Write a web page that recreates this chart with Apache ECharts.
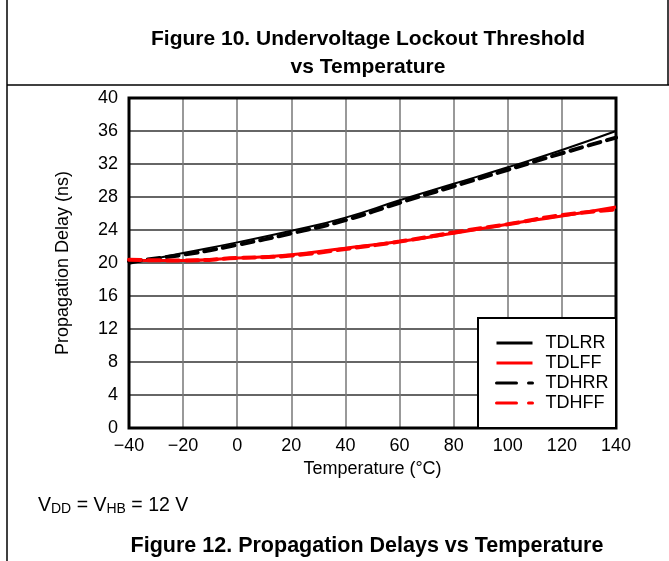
<!DOCTYPE html>
<html>
<head>
<meta charset="utf-8">
<script src="https://cdn.jsdelivr.net/npm/echarts@6/dist/echarts.min.js"></script>
<style>
html,body{margin:0;padding:0;background:#fff;}
#c{width:669px;height:561px;}
</style>
</head>
<body>
<div id="c"></div>
<script>
const temps = [-40, -20, 0, 20, 40, 60, 80, 100, 120, 140];
const tdlrr = [19.9, 21.2, 22.5, 23.9, 25.5, 27.6, 29.6, 31.6, 33.7, 36.0];
const tdlff = [20.3, 20.3, 20.6, 21.0, 21.8, 22.6, 23.6, 24.7, 25.7, 26.8];
const tdhrr = [20.2, 21.0, 22.2, 23.6, 25.2, 27.3, 29.3, 31.3, 33.3, 35.2];
const tdhff = [20.4, 20.3, 20.6, 20.9, 21.7, 22.6, 23.7, 24.7, 25.8, 26.5];
const seriesNames = ['TDLRR', 'TDLFF', 'TDHRR', 'TDHFF'];

const pairs = a => temps.map((t, i) => [t, a[i]]);
const FONT = '"Liberation Sans", Arial, sans-serif';

const chart = echarts.init(document.getElementById('c'), null, {renderer: 'canvas'});
chart.setOption({
  animation: false,
  backgroundColor: '#fff',
  textStyle: {fontFamily: FONT, color: '#000'},
  grid: {left: 129, top: 98, width: 487, height: 330, show: true, borderColor: '#000', borderWidth: 3, backgroundColor: 'transparent', z: 3},
  xAxis: {
    type: 'value', min: -40, max: 140, interval: 20,
    name: 'Temperature (°C)', nameLocation: 'middle', nameGap: 30,
    nameTextStyle: {fontSize: 18, color: '#000', fontFamily: FONT},
    axisLine: {show: false}, axisTick: {show: false},
    axisLabel: {fontSize: 18, color: '#000', margin: 9, fontFamily: FONT, formatter: v => String(v).replace('-', '\u2212')},
    splitLine: {show: true, lineStyle: {color: '#777', width: 1.5}}
  },
  yAxis: {
    type: 'value', min: 0, max: 40, interval: 4,
    name: 'Propagation Delay (ns)', nameLocation: 'middle', nameGap: 57, nameRotate: 90,
    nameTextStyle: {fontSize: 18, color: '#000', fontFamily: FONT},
    axisLine: {show: false}, axisTick: {show: false},
    axisLabel: {fontSize: 18, color: '#000', margin: 11, fontFamily: FONT},
    splitLine: {show: true, lineStyle: {color: '#333', width: 1.5}}
  },
  legend: {
    orient: 'vertical', left: 490, top: 329, itemWidth: 36, itemHeight: 10, itemGap: 2,
    itemStyle: {opacity: 0, borderWidth: 0},
    data: [
      {name: 'TDLRR', lineStyle: {width: 3}},
      {name: 'TDLFF', lineStyle: {width: 3}},
      {name: 'TDHRR', lineStyle: {type: [20, 12], width: 3, cap: 'round'}},
      {name: 'TDHFF', lineStyle: {type: [20, 12], width: 3, cap: 'round'}}
    ],
    textStyle: {fontSize: 18, color: '#000', fontFamily: FONT, padding: [0, 0, 0, 8]},
    z: 6
  },
  graphic: [
    {type: 'rect', shape: {x: 478, y: 318, width: 138, height: 110}, style: {fill: '#fff', stroke: '#000', lineWidth: 2}, z: 5},
    {type: 'line', shape: {x1: 7, y1: 0, x2: 7, y2: 561}, style: {stroke: '#000', lineWidth: 1.5}},
    {type: 'line', shape: {x1: 7, y1: 85, x2: 669, y2: 85}, style: {stroke: '#000', lineWidth: 1.5}},
    {type: 'line', shape: {x1: 668, y1: 0, x2: 668, y2: 85}, style: {stroke: '#000', lineWidth: 1.5}},
    {type: 'text', x: 368, y: 29, style: {text: 'Figure 10. Undervoltage Lockout Threshold', font: 'bold 21px ' + FONT, fill: '#000', textAlign: 'center'}},
    {type: 'text', x: 368, y: 57, style: {text: 'vs Temperature', font: 'bold 21px ' + FONT, fill: '#000', textAlign: 'center'}},
    {type: 'text', x: 38, y: 494, style: {
      text: '{n|V}{s|DD}{n| = V}{s|HB}{n| = 12 V}',
      rich: {n: {fontSize: 19.5, fontFamily: FONT, fill: '#000', verticalAlign: 'bottom'}, s: {fontSize: 14, fontFamily: FONT, fill: '#000', padding: [8, 0, 0, 0], verticalAlign: 'bottom'}}
    }},
    {type: 'text', x: 367, y: 535, style: {text: 'Figure 12. Propagation Delays vs Temperature', font: 'bold 21.5px ' + FONT, fill: '#000', textAlign: 'center'}}
  ],
  series: [
    {name: 'TDLRR', type: 'line', smooth: true, symbol: 'none', data: pairs(tdlrr), z: 4,
      lineStyle: {color: '#000', width: 2}, itemStyle: {color: '#000'}},
    {name: 'TDLFF', type: 'line', smooth: true, symbol: 'none', data: pairs(tdlff), z: 4,
      lineStyle: {color: '#ff0000', width: 3}, itemStyle: {color: '#ff0000'}},
    {name: 'TDHRR', type: 'line', smooth: true, symbol: 'none', data: pairs(tdhrr), z: 4,
      lineStyle: {color: '#000', width: 4, type: [12, 7], cap: 'round'}, itemStyle: {color: '#000'}},
    {name: 'TDHFF', type: 'line', smooth: true, symbol: 'none', data: pairs(tdhff), z: 4,
      lineStyle: {color: '#ff0000', width: 4, type: [12, 7], cap: 'round'}, itemStyle: {color: '#ff0000'}}
  ]
});
</script>
</body>
</html>
